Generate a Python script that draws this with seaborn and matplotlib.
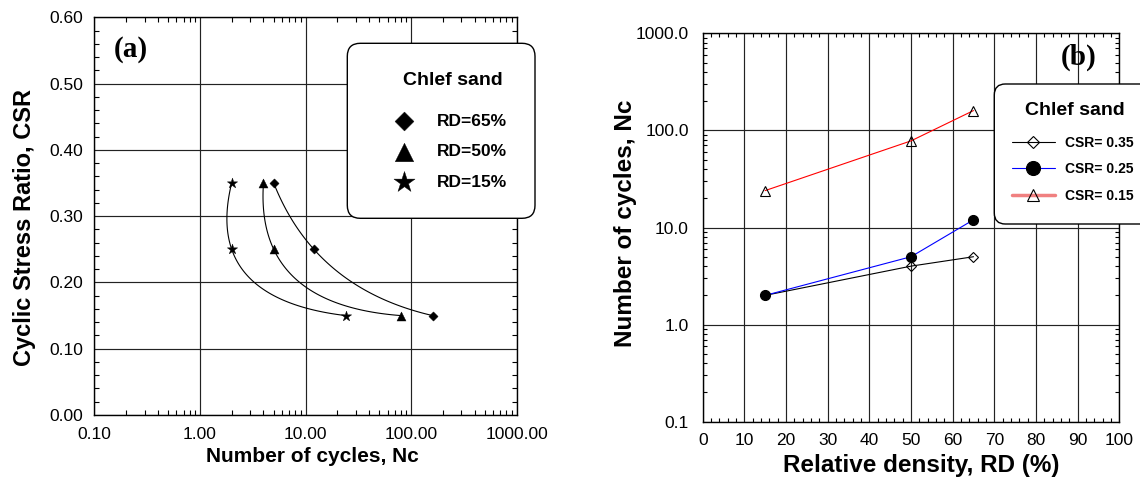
import numpy as np
import matplotlib
matplotlib.use("Agg")
import matplotlib.pyplot as plt
import seaborn as sns
from matplotlib.patches import FancyBboxPatch
from matplotlib.transforms import IdentityTransform
from matplotlib.ticker import (FixedLocator, FormatStrFormatter, LogLocator,
                               MultipleLocator, NullFormatter)

# ---------------- data: panel (a) ----------------
csr_levels = [0.35, 0.25, 0.15]
nc_rd65 = [5, 12, 160]
nc_rd50 = [4, 5, 80]
nc_rd15 = [2, 2, 24]
labels_a = ["RD=65%", "RD=50%", "RD=15%"]
xticks_a = [0.1, 1, 10, 100, 1000]
yticks_a = [0.0, 0.1, 0.2, 0.3, 0.4, 0.5, 0.6]

# ---------------- data: panel (b) ----------------
rd_values = [15, 50, 65]
nc_csr035 = [2, 4, 5]
nc_csr025 = [2, 5, 12]
nc_csr015 = [24, 78, 160]
labels_b = ["CSR= 0.35", "CSR= 0.25", "CSR= 0.15"]
xticks_b = [0, 10, 20, 30, 40, 50, 60, 70, 80, 90, 100]
yticks_b = [0.1, 1, 10, 100, 1000]

sns.set_theme(style="ticks")
plt.rcParams["font.family"] = ["Liberation Sans", "DejaVu Sans"]
plt.rcParams["axes.linewidth"] = 1.0
for key in ["text.color", "axes.labelcolor", "xtick.color", "ytick.color",
            "axes.edgecolor"]:
    plt.rcParams[key] = "black"

W, H = 1140, 482
fig = plt.figure(figsize=(W / 100, H / 100), dpi=100)
fig.patch.set_facecolor("white")


def px_axes(x0, x1, top, bottom):
    return fig.add_axes([x0 / W, (H - bottom) / H, (x1 - x0) / W, (bottom - top) / H])


axa = px_axes(94.3, 516.7, 17.3, 415.0)
axb = px_axes(702.7, 1119.3, 33.3, 421.7)

grid_kw = dict(color="#222222", linewidth=0.85)


def smooth_through(xs, ys, xlog_span, ylin_span, w_px, h_px, n=120):
    """Parametric quadratic through 3 points in (log x, y) display space."""
    u = np.log10(np.asarray(xs, float)) / xlog_span * w_px
    v = np.asarray(ys, float) / ylin_span * h_px
    t = np.concatenate([[0.0], np.cumsum(np.hypot(np.diff(u), np.diff(v)))])
    tt = np.linspace(t[0], t[-1], n)

    def lag(vals):
        out = np.zeros_like(tt)
        for i in range(3):
            term = np.full_like(tt, vals[i])
            for j in range(3):
                if j != i:
                    term *= (tt - t[j]) / (t[i] - t[j])
            out += term
        return out

    return 10 ** (lag(u) / w_px * xlog_span), lag(v) / h_px * ylin_span


# ---------------- panel (a) ----------------
series_a = [(nc_rd65, "D", 22), (nc_rd50, "^", 42), (nc_rd15, "*", 60)]
for (nc, mk, s), lab in zip(series_a, labels_a):
    cx, cy = smooth_through(nc, csr_levels, 4.0, 0.6, 422.4, 397.7)
    sns.lineplot(x=cx, y=cy, sort=False, estimator=None, color="black",
                 linewidth=0.8, ax=axa, zorder=2)
    sns.scatterplot(x=nc, y=csr_levels, marker=mk, s=s, color="black",
                    edgecolor="black", linewidth=0.3, label=lab, ax=axa,
                    zorder=3, legend=False)

axa.set_xscale("log")
axa.set_xlim(0.1, 1000)
axa.set_ylim(0, 0.6)
axa.xaxis.set_major_locator(FixedLocator(xticks_a))
axa.xaxis.set_major_formatter(FormatStrFormatter("%.2f"))
axa.xaxis.set_minor_locator(LogLocator(base=10, subs=np.arange(2, 10)))
axa.xaxis.set_minor_formatter(NullFormatter())
axa.yaxis.set_major_locator(FixedLocator(yticks_a))
axa.yaxis.set_major_formatter(FormatStrFormatter("%.2f"))
axa.yaxis.set_minor_locator(MultipleLocator(0.02))
axa.grid(True, which="major", **grid_kw)
axa.tick_params(which="both", direction="in", top=True, right=True,
                colors="black", width=0.8)
axa.tick_params(which="major", length=0, labelsize=12.5)
axa.tick_params(axis="x", which="major", pad=8.9)
axa.tick_params(axis="y", which="major", pad=8.1)
axa.tick_params(which="minor", length=3.6)
axa.set_xlabel("Number of cycles, Nc", fontsize=15, fontweight="bold", va="center")
axa.set_ylabel("Cyclic Stress Ratio, CSR", fontsize=17, fontweight="bold", va="center")
axa.xaxis.set_label_coords(0.5154, -0.1031)
axa.yaxis.set_label_coords(-0.1664, 0.4727)
axa.text(0.0864, 0.920, "(a)", transform=axa.transAxes, ha="center", va="center",
         fontsize=21, fontweight="bold", family="Liberation Serif")
for sp in axa.spines.values():
    sp.set_color("black")
    sp.set_linewidth(1.0)

# ---------------- panel (b) ----------------
series_b = [
    (nc_csr035, "black", "D", 4.6, "none"),
    (nc_csr025, "#0000ff", "o", 7.2, "black"),
    (nc_csr015, "#ff0000", "^", 6.5, "none"),
]
for (nc, col, mk, ms, mfc), lab in zip(series_b, labels_b):
    sns.lineplot(x=rd_values, y=nc, color=col, linewidth=0.8, marker=mk,
                 markersize=ms, markerfacecolor=mfc, markeredgecolor="black",
                 markeredgewidth=0.8, label=lab, ax=axb, legend=False,
                 estimator=None, zorder=3)

axb.set_yscale("log")
axb.set_xlim(0, 100)
axb.set_ylim(0.1, 1000)
axb.xaxis.set_major_locator(FixedLocator(xticks_b))
axb.xaxis.set_major_formatter(FormatStrFormatter("%d"))
axb.xaxis.set_minor_locator(MultipleLocator(2))
axb.yaxis.set_major_locator(FixedLocator(yticks_b))
axb.yaxis.set_major_formatter(FormatStrFormatter("%.1f"))
axb.yaxis.set_minor_locator(LogLocator(base=10, subs=np.arange(2, 10)))
axb.yaxis.set_minor_formatter(NullFormatter())
axb.grid(True, which="major", **grid_kw)
axb.tick_params(which="both", direction="in", top=True, right=True,
                colors="black", width=0.8)
axb.tick_params(which="major", length=0, labelsize=12.5)
axb.tick_params(axis="x", which="major", pad=8.0)
axb.tick_params(axis="y", which="major", pad=9.9)
axb.tick_params(which="minor", length=3.0)
axb.set_xlabel("Relative density, RD (%)", fontsize=17.5, fontweight="bold", va="center")
axb.set_ylabel("Number of cycles, Nc", fontsize=17.5, fontweight="bold", va="center")
axb.xaxis.set_label_coords(0.524, -0.114)
axb.yaxis.set_label_coords(-0.1865, 0.510)
axb.text(0.902, 0.938, "(b)", transform=axb.transAxes, ha="center", va="center",
         fontsize=21, fontweight="bold", family="Liberation Serif")
for sp in axb.spines.values():
    sp.set_color("black")
    sp.set_linewidth(1.0)

# remove any auto-created axes legends
for ax in (axa, axb):
    lg = ax.get_legend()
    if lg is not None:
        lg.remove()

# ---------------- legends (figure level, boxed) ----------------
def add_box(x0, x1, top, bottom, r):
    box = FancyBboxPatch((x0, H - bottom), x1 - x0, bottom - top,
                         boxstyle=f"round,pad=0,rounding_size={r}",
                         transform=IdentityTransform(), facecolor="white",
                         edgecolor="black", linewidth=1.0, zorder=4)
    fig.add_artist(box)


add_box(347.3, 535.0, 43.3, 218.3, 13)
add_box(994.3, 1165.0, 84.0, 224.0, 11)

fig.text(452.5 / W, 1 - 85.0 / H, "Chlef sand", ha="center", va="baseline",
         fontsize=14, fontweight="bold", zorder=6)
fig.text(1075.3 / W, 1 - 115.0 / H, "Chlef sand", ha="center", va="baseline",
         fontsize=14, fontweight="bold", zorder=6)

ha_, la_ = axa.get_legend_handles_labels()
leg_a = fig.legend(ha_, la_, loc="center left",
                   bbox_to_anchor=(395.3 / W, 1 - 151.7 / H),
                   frameon=False, borderpad=0, borderaxespad=0,
                   markerscale=2.05, handlelength=1.0, handletextpad=1.4,
                   labelspacing=0.875, scatterpoints=1,
                   prop={"weight": "bold", "size": 12.5})
leg_a.set_zorder(6)

hb_, lb_ = axb.get_legend_handles_labels()
leg_b = fig.legend(hb_, lb_, loc="center left",
                   bbox_to_anchor=(1011.7 / W, 1 - 169.3 / H),
                   frameon=False, borderpad=0, borderaxespad=0,
                   markerscale=1.4, handlelength=3.12, handletextpad=0.72,
                   labelspacing=0.92, numpoints=1,
                   prop={"weight": "bold", "size": 10})
leg_b.set_zorder(6)
lines_b = leg_b.get_lines()
if len(lines_b) == 3:
    lines_b[2].set_linewidth(2.5)
    lines_b[2].set_color("#f08080")
    lines_b[2].set_markeredgecolor("black")

fig.savefig("out.png", dpi=100)
